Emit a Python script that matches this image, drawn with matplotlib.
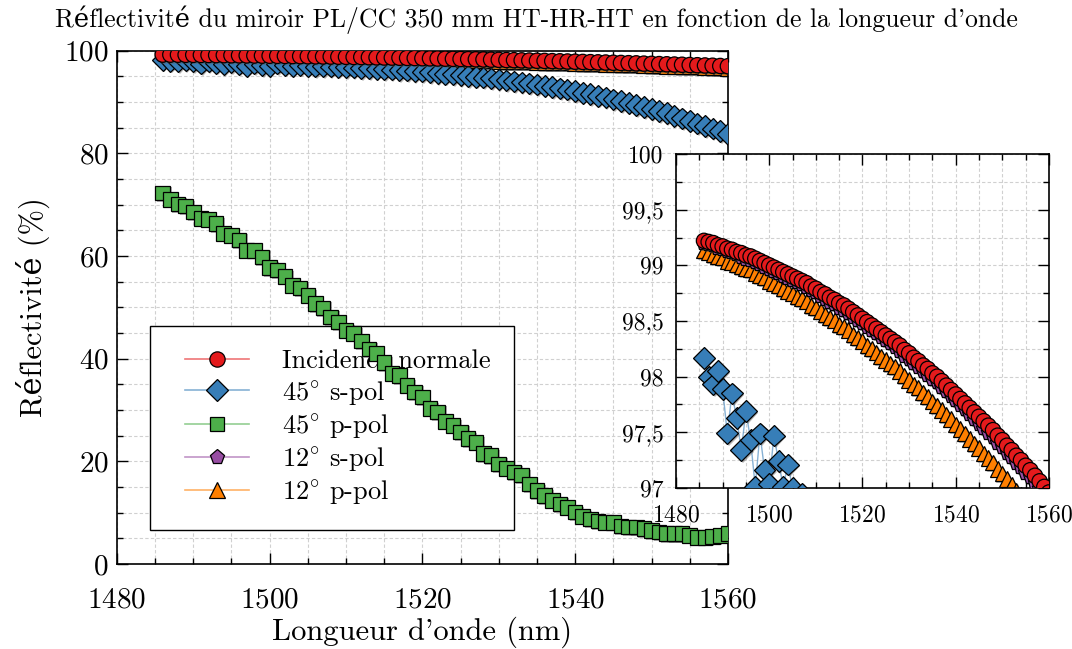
import matplotlib
matplotlib.use("Agg")
import matplotlib.pyplot as plt
import matplotlib.patheffects as pe
from matplotlib.lines import Line2D
from matplotlib.legend_handler import HandlerLine2D
from matplotlib.ticker import MultipleLocator, FuncFormatter

plt.rcParams['font.family'] = ['cmr10', 'DejaVu Serif']
plt.rcParams['axes.formatter.use_mathtext'] = True
plt.rcParams['mathtext.fontset'] = 'cm'

wavelength = list(range(1486, 1561))

r_normal = [99.22, 99.21, 99.20, 99.18, 99.17, 99.15, 99.14, 99.12, 99.11, 99.09,
            99.08, 99.06, 99.04, 99.02, 99.00, 98.98, 98.96, 98.94, 98.92, 98.90,
            98.88, 98.86, 98.84, 98.81, 98.79, 98.76, 98.74, 98.71, 98.69, 98.66,
            98.64, 98.61, 98.58, 98.55, 98.52, 98.49, 98.46, 98.43, 98.40, 98.37,
            98.34, 98.31, 98.28, 98.24, 98.21, 98.17, 98.14, 98.10, 98.07, 98.03,
            98.00, 97.96, 97.92, 97.88, 97.84, 97.80, 97.76, 97.72, 97.68, 97.64,
            97.60, 97.56, 97.52, 97.47, 97.43, 97.38, 97.34, 97.29, 97.25, 97.20,
            97.16, 97.11, 97.06, 97.01, 96.96]

r_45s = [98.17, 98.00, 97.93, 98.05, 97.89, 97.49, 97.85, 97.63, 97.34, 97.69,
         97.43, 97.01, 97.49, 97.16, 97.04, 97.47, 97.24, 97.01, 97.21, 97.00,
         96.90, 96.95, 96.90, 96.85, 96.80, 96.70, 96.60, 96.55, 96.45, 96.40,
         96.30, 96.20, 96.10, 96.00, 95.90, 95.75, 95.60, 95.50, 95.35, 95.20,
         95.05, 94.90, 94.75, 94.60, 94.40, 94.20, 94.00, 93.80, 93.60, 93.40,
         93.15, 92.90, 92.65, 92.40, 92.10, 91.80, 91.50, 91.20, 90.90, 90.50,
         90.15, 89.80, 89.40, 89.00, 88.60, 88.20, 87.80, 87.30, 86.80, 86.30,
         85.80, 85.30, 84.80, 84.30, 83.80]

r_45p = [72.3, 71.0, 70.1, 69.7, 68.6, 67.3, 67.1, 66.3, 64.4, 64.0,
         63.1, 61.1, 61.1, 59.8, 57.7, 57.3, 56.0, 54.3, 53.8, 52.3,
         50.7, 49.9, 48.1, 47.1, 45.5, 44.9, 43.4, 41.9, 41.0, 39.2,
         37.1, 36.7, 34.8, 33.5, 32.5, 30.3, 29.6, 27.8, 27.0, 25.7,
         24.4, 23.7, 21.5, 21.1, 19.5, 18.6, 17.9, 17.3, 15.6, 14.3,
         13.3, 12.4, 11.7, 11.0, 10.1, 9.3, 8.8, 8.4, 8.1, 8.1,
         7.4, 7.2, 7.2, 6.9, 6.5, 6.2, 5.9, 5.9, 5.9, 5.6,
         5.2, 5.2, 5.4, 5.6, 5.9]

r_12s = [99.20, 99.19, 99.18, 99.16, 99.15, 99.13, 99.12, 99.10, 99.08, 99.06,
         99.05, 99.03, 99.01, 98.99, 98.97, 98.95, 98.93, 98.91, 98.89, 98.87,
         98.85, 98.83, 98.81, 98.78, 98.76, 98.73, 98.70, 98.67, 98.65, 98.62,
         98.60, 98.57, 98.54, 98.51, 98.48, 98.45, 98.42, 98.39, 98.36, 98.33,
         98.30, 98.27, 98.23, 98.19, 98.16, 98.12, 98.09, 98.05, 98.02, 97.98,
         97.95, 97.91, 97.87, 97.83, 97.79, 97.75, 97.71, 97.67, 97.62, 97.58,
         97.54, 97.50, 97.46, 97.41, 97.37, 97.32, 97.28, 97.23, 97.19, 97.14,
         97.10, 97.05, 97.00, 96.95, 96.90]

r_12p = [99.13, 99.12, 99.10, 99.08, 99.07, 99.04, 99.03, 99.01, 98.99, 98.97,
         98.96, 98.93, 98.91, 98.89, 98.86, 98.84, 98.82, 98.79, 98.77, 98.75,
         98.72, 98.70, 98.68, 98.64, 98.62, 98.59, 98.56, 98.53, 98.51, 98.47,
         98.45, 98.42, 98.38, 98.35, 98.32, 98.28, 98.25, 98.22, 98.18, 98.15,
         98.12, 98.09, 98.05, 98.01, 97.97, 97.93, 97.90, 97.86, 97.82, 97.78,
         97.74, 97.70, 97.66, 97.62, 97.57, 97.53, 97.49, 97.44, 97.40, 97.36,
         97.31, 97.27, 97.23, 97.17, 97.13, 97.08, 97.03, 96.98, 96.94, 96.88,
         96.84, 96.79, 96.73, 96.68, 96.63]

labels = ["Incidence normale", "45$^{\\circ}$ s-pol", "45$^{\\circ}$ p-pol",
          "12$^{\\circ}$ s-pol", "12$^{\\circ}$ p-pol"]
series = [r_normal, r_45s, r_45p, r_12s, r_12p]
colors = ["#e41a1c", "#377eb8", "#4daf4a", "#984ea3", "#ff7f00"]
markers = ["o", "D", "s", "p", "^"]
msizes = [11, 11, 10.5, 11, 11]
zorders = [6, 5, 4, 3, 2]

title = "Réflectivité du miroir PL/CC 350 mm HT-HR-HT en fonction de la longueur d'onde"
xlabel = "Longueur d'onde (nm)"
ylabel = "Réflectivité (%)"

fig = plt.figure(figsize=(10.72, 6.49), dpi=100)
ax = fig.add_axes([0.109, 0.131, 0.570, 0.791])
axin = fig.add_axes([0.6306, 0.2481, 0.3479, 0.5146])


def style_axes(a, labelsize):
    a.tick_params(which='both', direction='in', top=True, right=True,
                  labelsize=labelsize, width=1.0, colors='black')
    a.tick_params(which='major', length=8)
    a.tick_params(which='minor', length=4)
    a.grid(True, which='both', linestyle=(0, (3, 2)), color='#d0d0d0', linewidth=0.8)
    a.set_axisbelow(True)
    for s in a.spines.values():
        s.set_linewidth(1.2)


shadow = [pe.SimplePatchShadow(offset=(1.2, -1.2), shadow_rgbFace='0.35', alpha=0.45),
          pe.Normal()]

handles = []
for a in (ax, axin):
    for y, lab, c, m, ms, z in zip(series, labels, colors, markers, msizes, zorders):
        rgba = matplotlib.colors.to_rgba(c, 0.6)
        a.plot(wavelength, y, color=rgba, linewidth=1.0, zorder=z)
        mk, = a.plot(wavelength, y, linestyle='none', marker=m, markersize=ms,
                     markerfacecolor=c, markeredgecolor='black', markeredgewidth=0.9,
                     zorder=z + 0.5)
        mk.set_path_effects(shadow)
        if a is ax:
            handles.append(Line2D([], [], color=rgba, linewidth=1.2, marker=m,
                                  markersize=ms, markerfacecolor=c,
                                  markeredgecolor='black', markeredgewidth=0.9,
                                  label=lab))

ax.set_xlim(1480, 1560)
ax.set_ylim(0, 100)
ax.xaxis.set_major_locator(MultipleLocator(20))
ax.xaxis.set_minor_locator(MultipleLocator(5))
ax.yaxis.set_major_locator(MultipleLocator(20))
ax.yaxis.set_minor_locator(MultipleLocator(5))
style_axes(ax, 21)
ax.tick_params(axis='x', which='major', pad=17)
ax.tick_params(axis='y', which='major', pad=6)
ax.set_xlabel(xlabel, fontsize=22, labelpad=2)
ax.set_ylabel(ylabel, fontsize=22, labelpad=10)
fig.suptitle(title, fontsize=18.5, x=0.5, y=0.992)

axin.set_xlim(1480, 1560)
axin.set_ylim(97, 100)
axin.xaxis.set_major_locator(MultipleLocator(20))
axin.xaxis.set_minor_locator(MultipleLocator(5))
axin.yaxis.set_major_locator(MultipleLocator(0.5))
axin.yaxis.set_minor_locator(MultipleLocator(0.25))
axin.yaxis.set_major_formatter(FuncFormatter(lambda v, p: ("%g" % v).replace('.', ',')))
style_axes(axin, 17)
axin.tick_params(axis='x', which='major', pad=12)
axin.tick_params(axis='y', which='major', pad=9)

leg = ax.legend(handles=handles, loc='lower left', bbox_to_anchor=(0.054, 0.066),
                fontsize=19, frameon=True, fancybox=False, edgecolor='black',
                framealpha=1.0, handlelength=2.85, handletextpad=1.25,
                borderpad=0.9, labelspacing=0.2, borderaxespad=0,
                handler_map={Line2D: HandlerLine2D(xpad=0.45)})
leg.get_frame().set_linewidth(1.0)
leg.set_zorder(1.5)

fig.savefig("out.png", dpi=100)
